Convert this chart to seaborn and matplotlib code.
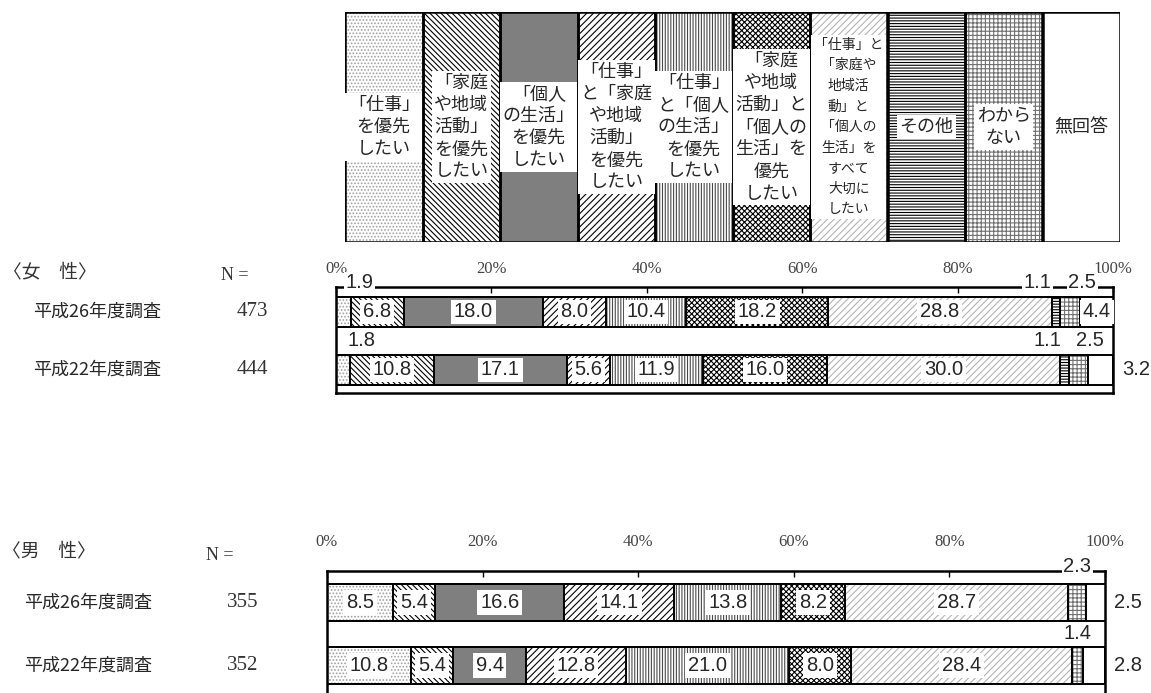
import matplotlib
matplotlib.use("Agg")
import matplotlib.pyplot as plt
import pandas as pd
import seaborn as sns
from matplotlib.patches import Rectangle
from matplotlib.transforms import blended_transform_factory

categories = [
    "「仕事」を優先したい",
    "「家庭や地域活動」を優先したい",
    "「個人の生活」を優先したい",
    "「仕事」と「家庭や地域活動」を優先したい",
    "「仕事」と「個人の生活」を優先したい",
    "「家庭や地域活動」と「個人の生活」を優先したい",
    "「仕事」と「家庭や地域活動」と「個人の生活」をすべて大切にしたい",
    "その他",
    "わからない",
    "無回答",
]
legend_labels = [
    "「仕事」\nを優先\nしたい",
    "「家庭\nや地域\n活動」\nを優先\nしたい",
    "「個人\nの生活」\nを優先\nしたい",
    "「仕事」\nと「家庭\nや地域\n活動」\nを優先\nしたい",
    "「仕事」\nと「個人\nの生活」\nを優先\nしたい",
    "「家庭\nや地域\n活動」と\n「個人の\n生活」を\n優先\nしたい",
    "「仕事」と\n「家庭や\n地域活\n動」と\n「個人の\n生活」を\nすべて\n大切に\nしたい",
    "その他",
    "わから\nない",
    "無回答",
]
surveys = ["平成26年度調査", "平成22年度調査"]
female_n = [473, 444]
male_n = [355, 352]
female_h26 = [1.9, 6.8, 18.0, 8.0, 10.4, 18.2, 28.8, 1.1, 2.5, 4.4]
female_h22 = [1.8, 10.8, 17.1, 5.6, 11.9, 16.0, 30.0, 1.1, 2.5, 3.2]
male_h26 = [8.5, 5.4, 16.6, 14.1, 13.8, 8.2, 28.7, 0.0, 2.3, 2.5]
male_h22 = [10.8, 5.4, 9.4, 12.8, 21.0, 8.0, 28.4, 0.0, 1.4, 2.8]
pct_ticks = [0, 20, 40, 60, 80, 100]

# face colour, hatch, hatch colour for each answer
FILL_STYLES = [
    ("white", ".....", "#a0a0a0"),
    ("white", "\\\\\\\\\\\\", "black"),
    ("#7f7f7f", None, "black"),
    ("white", "/////", "black"),
    ("white", "||||||", "#4a4a4a"),
    ("white", "xxxxxx", "black"),
    ("white", "/////", "#b4b4b4"),
    ("white", "------", "black"),
    ("white", "++++", "#707070"),
    ("white", None, "black"),
]

# where small values are written: (row, category) -> (mode, x shift in %)
FEMALE_PLACE = {
    (0, 0): ("top", 2.1), (0, 7): ("top", -2.4), (0, 8): ("top", 1.6),
    (1, 0): ("mid", 2.4), (1, 7): ("mid", -2.2), (1, 8): ("mid", 1.5),
    (1, 9): ("right", 0),
}
MALE_PLACE = {
    (0, 8): ("top", 0), (0, 9): ("right", 0),
    (1, 8): ("mid", 0), (1, 9): ("right", 0),
}

W, H, DPI = 1151, 693, 100
SERIF = "Liberation Serif"
NUM_FONT = "Liberation Sans"
PT = 0.72  # points per pixel at 100 dpi

plt.rcParams["hatch.linewidth"] = 0.8
sns.set_style("white")
plt.rcParams["font.family"] = ["Noto Sans CJK JP", "DejaVu Sans"]


def px_axes(fig, left, top, right, bottom):
    return fig.add_axes([left / W, 1 - bottom / H, (right - left) / W, (bottom - top) / H])


def outline(ax, patches, lw):
    for p in patches:
        ax.add_patch(Rectangle(p.get_xy(), p.get_width(), p.get_height(),
                               fill=False, ec="black", lw=lw, zorder=3))


def draw_stacked(ax, rows, bar_width):
    df = pd.DataFrame(rows, index=surveys, columns=categories)
    cum = df.cumsum(axis=1)
    # widest cumulative bar first, each narrower one painted over it
    for k in range(len(categories) - 1, -1, -1):
        face, hatch, hcolor = FILL_STYLES[k]
        layer = pd.DataFrame({"survey": surveys, "right": cum.iloc[:, k].values})
        n0 = len(ax.patches)
        sns.barplot(data=layer, x="right", y="survey", order=surveys, orient="h",
                    color=face, saturation=1, width=bar_width, errorbar=None,
                    linewidth=0, ax=ax)
        for p in ax.patches[n0:]:
            p.set_hatch(hatch)
            p.set_edgecolor(hcolor)
            p.set_linewidth(0)
    outline(ax, list(ax.patches), 1.4)


def label_bars(ax, rows, place, top_y):
    for i, vals in enumerate(rows):
        left = 0.0
        for k, v in enumerate(vals):
            center = left + v / 2
            left += v
            if v == 0:
                continue
            mode, dx = place.get((i, k), ("in", 0))
            x, y = center + dx, i
            pad = 2
            if mode == "top":
                y = top_y
                pad = 1.2
            elif mode == "mid":
                y = i - 0.5
            elif mode == "right":
                x = 103
            box = None if mode == "right" else dict(fc="white", ec="none", pad=pad)
            ax.text(x, y, f"{v:.1f}", ha="center", va="center", fontsize=14.5,
                    family=NUM_FONT, bbox=box, zorder=5, clip_on=False)


def panel(fig, box, ylim, bar_width, rows, ns, title, place, offsets):
    left, top, right, bottom = box
    ax = px_axes(fig, *box)
    draw_stacked(ax, rows, bar_width)
    ppu = (bottom - top) / (ylim[0] - ylim[1])
    label_bars(ax, rows, place, ylim[1] - 4 / ppu)
    ax.set_xlim(0, 100)
    ax.set_ylim(*ylim)
    ax.set_xlabel("")
    ax.set_ylabel("")
    ax.set_yticks([])
    ax.set_xticks(pct_ticks)
    ax.set_xticklabels([f"{t}%" for t in pct_ticks], family=SERIF, fontsize=12)
    ax.xaxis.tick_top()
    ax.tick_params(axis="x", direction="in", length=4, width=1, pad=offsets["tick_pad"],
                   color="black", labelcolor="#444444")
    for lab in ax.get_xticklabels():
        lab.set_zorder(6)
    for s in ax.spines.values():
        s.set_visible(True)
        s.set_linewidth(1.8)
        s.set_color("black")

    tr = blended_transform_factory(ax.transAxes, ax.transData)
    for i, (s, n) in enumerate(zip(surveys, ns)):
        ax.text(offsets["row_x"], i, s, transform=tr, ha="left", va="center", fontsize=13)
        ax.text(-0.108, i, str(n), transform=tr, ha="center", va="center",
                family=SERIF, fontsize=15, color="#333333")
    ax.annotate(title, xy=(offsets["title_x"], 1), xycoords="axes fraction",
                xytext=(0, offsets["title_dy"] * PT), textcoords="offset points",
                ha="left", va="center", fontsize=13.5, color="#333333")
    ax.annotate("N =", xy=(offsets["n_x"], 1), xycoords="axes fraction",
                xytext=(0, offsets["n_dy"] * PT), textcoords="offset points",
                ha="center", va="center", family=SERIF, fontsize=13, color="#333333")
    return ax


def draw_legend(fig):
    leg = px_axes(fig, 345, 12, 1120, 242)
    legend_df = pd.DataFrame({"category": categories, "share": [1] * len(categories)})
    sns.barplot(data=legend_df, x="category", y="share", hue="category",
                palette=[f[0] for f in FILL_STYLES], saturation=1, width=1.0,
                legend=False, linewidth=0, ax=leg)
    bars = sorted(leg.patches, key=lambda p: p.get_x())
    for p, (face, hatch, hcolor) in zip(bars, FILL_STYLES):
        p.set_hatch(hatch)
        p.set_edgecolor(hcolor)
        p.set_linewidth(0)
    outline(leg, bars, 1.8)
    for i, text in enumerate(legend_labels):
        size = 10 if i == 6 else 13
        spacing = 1.6 if i == 6 else 1.3
        leg.text(i, 0.5, text, ha="center", va="center", fontsize=size,
                 linespacing=spacing, zorder=5,
                 bbox=dict(fc="white", ec="none", pad=2))
    leg.set_xlim(-0.5, len(categories) - 0.5)
    leg.set_ylim(0, 1)
    leg.axis("off")


def main():
    fig = plt.figure(figsize=(W / DPI, H / DPI), dpi=DPI)
    draw_legend(fig)
    panel(fig, (336, 287, 1113, 393), (1.40, -0.43), 0.52,
          [female_h26, female_h22], female_n, "〈女　性〉", FEMALE_PLACE,
          dict(tick_pad=7.5, row_x=-0.39, title_x=-0.428, title_dy=15, n_x=-0.13, n_dy=12))
    panel(fig, (327, 571, 1105, 698), (1.52, -0.5), 0.59,
          [male_h26, male_h22], male_n, "〈男　性〉", MALE_PLACE,
          dict(tick_pad=15, row_x=-0.39, title_x=-0.418, title_dy=20, n_x=-0.138, n_dy=16))
    fig.savefig("out.png", dpi=DPI)
    plt.close(fig)


if __name__ == "__main__":
    main()
